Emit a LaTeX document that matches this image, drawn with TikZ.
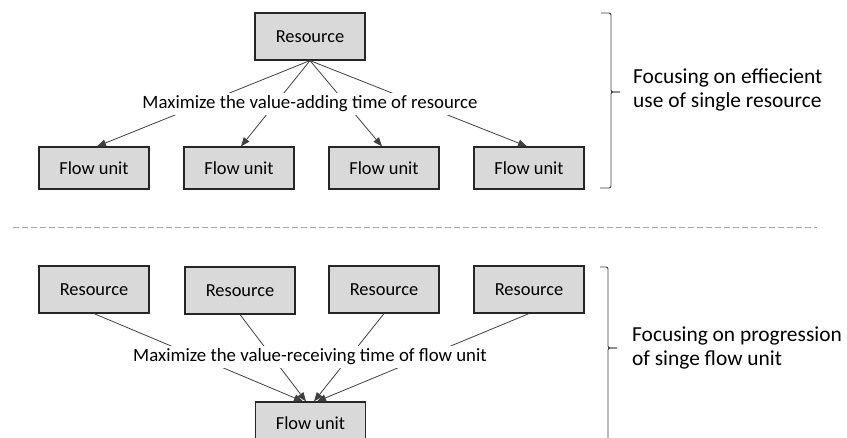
\documentclass[tikz,border=0pt]{standalone}
\usepackage{fontspec}
\setmainfont{Carlito}
\usetikzlibrary{arrows.meta,calc}
\definecolor{boxfill}{HTML}{D9D9D9}
\definecolor{boxline}{HTML}{262626}
\definecolor{linegray}{HTML}{404040}
\definecolor{dashgray}{HTML}{A6A6A6}
\begin{document}
\begin{tikzpicture}[x=1pt,y=-1pt,
  box/.style={draw=boxline, line width=1.2pt, fill=boxfill, minimum width=110pt, inner sep=0pt, font=\fontsize{18.4}{22}\selectfont},
  resbox/.style={box, minimum height=47pt},
  fubox/.style={box, minimum height=42pt},
  conn/.style={draw=linegray, line width=0.8pt},
  arr/.style={conn, -{Triangle[length=9pt,width=7pt]}},
  lbl/.style={fill=white, inner sep=2.5pt, font=\fontsize{18.8}{22}\selectfont},
  side/.style={align=left, anchor=west, inner sep=0pt, font=\fontsize{21.4}{24}\selectfont},
  bracepath/.style={draw=linegray, line width=0.9pt, rounded corners=2pt},
  sep/.style={draw=dashgray, line width=0.8pt, dash pattern=on 6pt off 3pt}
]
\clip (0,0) rectangle (847,438);
% top part
\node[resbox] (r0) at (310,36.5) {Resource};
\node[fubox] (f1) at (94,168) {Flow unit};
\node[fubox] (f2) at (239,168) {Flow unit};
\node[fubox] (f3) at (384,168) {Flow unit};
\node[fubox] (f4) at (529,168) {Flow unit};
\draw[arr] (r0.south) -- ($(f1.north)+(3,0)$);
\draw[arr] (r0.south) -- ($(f2.north)+(2,0)$);
\draw[arr] (r0.south) -- ($(f3.north)+(-2,0)$);
\draw[arr] (r0.south) -- ($(f4.north)+(-2,0)$);
\node[lbl] (l1) at (310,104) {Maximize the value-adding time of resource};
% separator
\coordinate (sa) at (13,227);
\coordinate (sb) at (817,227);
\draw[sep] (sa) -- (sb);
% bottom part
\node[resbox] (r1) at (94,289.5) {Resource};
\node[resbox] (r2) at (240,290.5) {Resource};
\node[resbox] (r3) at (384,289.5) {Resource};
\node[resbox] (r4) at (529,289.5) {Resource};
\node[fubox] (fb) at (310.5,423) {Flow unit};
\draw[arr] (r1.south) -- ($(fb.north)+(-7.5,0)$);
\draw[arr] (r2.south) -- ($(fb.north)+(-4.5,0)$);
\draw[arr] (r3.south) -- ($(fb.north)+(3.5,0)$);
\draw[arr] (r4.south) -- ($(fb.north)+(6.5,0)$);
\node[lbl] (l2) at (310,357) {Maximize the value-receiving time of flow unit};
% braces
\draw[bracepath] (601,13) -- (611,13) -- (611,92) -- (620,92);
\draw[bracepath] (620,92) -- (611,92) -- (611,188) -- (600,188);
\node[side] (t1) at (633,90) {Focusing on effiecient\\use of single resource};
\draw[bracepath] (600,267) -- (608,267) -- (608,348) -- (617,348);
\draw[bracepath] (617,348) -- (608,348) -- (608,450);
\node[side] (t2) at (632,348) {Focusing on progression\\of singe flow unit};
\end{tikzpicture}
\end{document}
